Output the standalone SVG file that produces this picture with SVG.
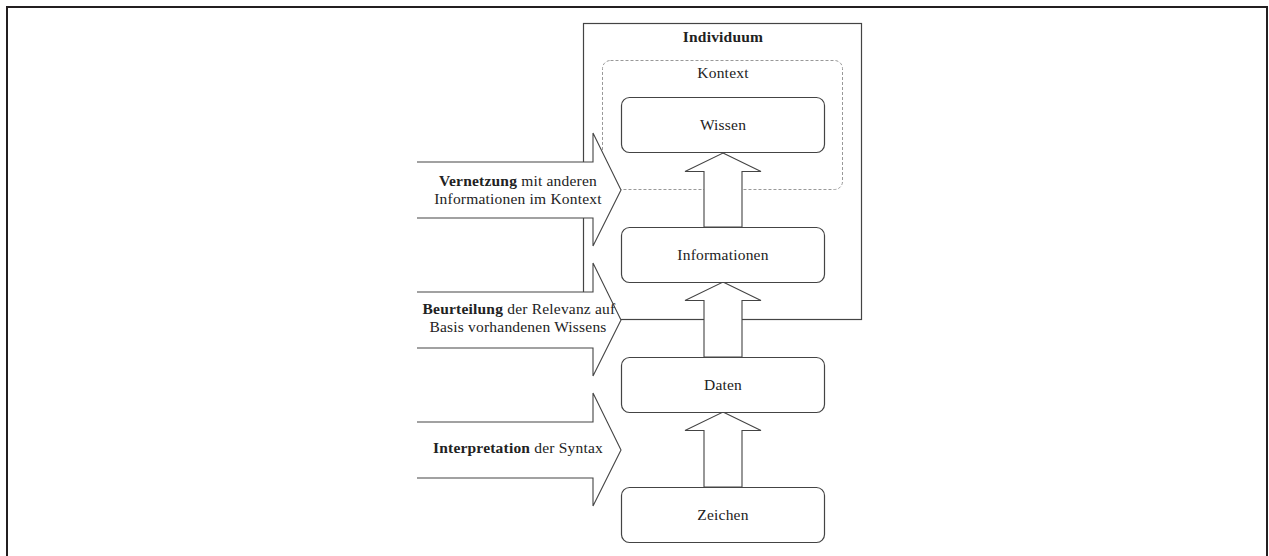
<svg xmlns="http://www.w3.org/2000/svg" width="1269" height="556" viewBox="0 0 1269 556">
  <style>
    .frame { fill: none; stroke: #231f20; stroke-width: 2; }
    .box { fill: #fff; stroke: #444; stroke-width: 1.2; }
    .ctx { fill: none; stroke: #999; stroke-width: 1; stroke-dasharray: 3 2; }
    .arrow { fill: #fff; stroke: #444; stroke-width: 1.1; stroke-linejoin: miter; }
    .open { fill: #fff; stroke: none; }
    .edge { fill: none; stroke: #444; stroke-width: 1.1; stroke-linejoin: miter; }
    text { font-family: "Liberation Serif", "Times New Roman", serif; font-size: 15.5px; fill: #222; text-anchor: middle; letter-spacing: 0.2px; }
    .b { font-weight: bold; }
  </style>

  <!-- page frame -->
  <rect class="frame" x="7" y="7" width="1260" height="560"/>

  <!-- containers -->
  <g id="individuum">
    <rect x="583.5" y="23.5" width="278" height="296" fill="#fff" stroke="#444" stroke-width="1.2"/>
    <text class="b" x="723" y="42">Individuum</text>
  </g>
  <g id="kontext">
    <rect class="ctx" x="602.5" y="60.5" width="240" height="129" rx="8"/>
    <text x="723" y="78">Kontext</text>
  </g>

  <!-- connectors: upward arrows between levels, process arrows from the left (open at their tail) -->
  <g id="connectors">
    <polygon class="arrow" points="723,153 761,171.5 742,171.5 742,227 704,227 704,171.5 685,171.5"/>
    <polygon class="arrow" points="723,282 761,300.5 742,300.5 742,357 704,357 704,300.5 685,300.5"/>
    <polygon class="arrow" points="723,412 761,430.5 742,430.5 742,487 704,487 704,430.5 685,430.5"/>

    <polygon class="open" points="417,162 593,162 593,133 621,190 593,246 593,218 417,218"/>
    <polyline class="edge" points="417,162 593,162 593,133 621,190 593,246 593,218 417,218"/>
    <polygon class="open" points="417,292 593,292 593,263 621,320 593,376 593,348 417,348"/>
    <polyline class="edge" points="417,292 593,292 593,263 621,320 593,376 593,348 417,348"/>
    <polygon class="open" points="417,422 593,422 593,393 621,450 593,506 593,478 417,478"/>
    <polyline class="edge" points="417,422 593,422 593,393 621,450 593,506 593,478 417,478"/>
  </g>

  <!-- arrow labels -->
  <g id="label-vernetzung">
    <text x="518" y="186"><tspan class="b">Vernetzung</tspan> mit anderen</text>
    <text x="518" y="204">Informationen im Kontext</text>
  </g>
  <g id="label-beurteilung">
    <text x="519" y="314"><tspan class="b">Beurteilung</tspan> der Relevanz auf</text>
    <text x="518" y="332">Basis vorhandenen Wissens</text>
  </g>
  <g id="label-interpretation">
    <text x="518" y="453"><tspan class="b">Interpretation</tspan> der Syntax</text>
  </g>

  <!-- levels -->
  <g id="wissen">
    <rect class="box" x="621.5" y="97.5" width="203" height="55" rx="8"/>
    <text x="723" y="130">Wissen</text>
  </g>
  <g id="informationen">
    <rect class="box" x="621.5" y="227.5" width="203" height="55" rx="8"/>
    <text x="723" y="260">Informationen</text>
  </g>
  <g id="daten">
    <rect class="box" x="621.5" y="357.5" width="203" height="55" rx="8"/>
    <text x="723" y="390">Daten</text>
  </g>
  <g id="zeichen">
    <rect class="box" x="621.5" y="487.5" width="203" height="55" rx="8"/>
    <text x="723" y="520">Zeichen</text>
  </g>
</svg>
